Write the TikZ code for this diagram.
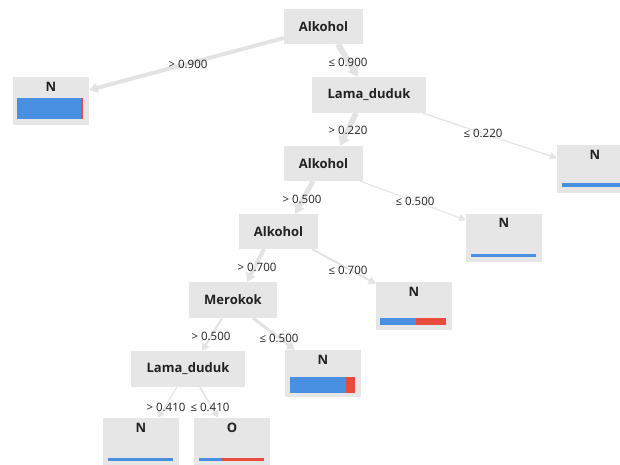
\documentclass[tikz,border=0pt]{standalone}
\usepackage{fontspec}
\setmainfont{Open Sans}
\usetikzlibrary{arrows.meta}
\definecolor{boxgray}{HTML}{E6E6E6}
\definecolor{edgegray}{HTML}{E3E3E3}
\definecolor{barblue}{HTML}{4A90E2}
\definecolor{barred}{HTML}{E74C3C}
\definecolor{txt}{HTML}{222222}
\begin{document}
\begin{tikzpicture}[x=1pt,y=-1pt,
 dec/.style={fill=boxgray, minimum width=79pt, minimum height=35pt, inner sep=0pt, text=txt, font=\bfseries\fontsize{13}{14}\selectfont},
 leaf/.style={fill=boxgray, minimum width=76pt, minimum height=48pt, inner sep=0pt},
 lbl/.style={text=txt, font=\fontsize{11.5}{12}\selectfont, inner sep=0pt},
 cls/.style={text=txt, font=\bfseries\fontsize{13}{14}\selectfont, inner sep=0pt},
 conn/.style={draw=edgegray, -{Triangle[length=6pt 0.6, width=6pt 1]}},
]
\useasboundingbox (0,0) rectangle (620,464);
\clip (0,0) rectangle (620,464);

% decision nodes
\node[dec] (root) at (323.5,26.5) {Alkohol};
\node[dec, minimum width=114pt, minimum height=36pt] (ld1) at (369,95) {Lama\_duduk};
\node[dec] (alk2) at (323.5,163.5) {Alkohol};
\node[dec] (alk3) at (278.5,231.5) {Alkohol};
\node[dec, minimum width=88pt, minimum height=36pt] (mer) at (233,300) {Merokok};
\node[dec, minimum width=114pt, minimum height=36pt] (ld2) at (188,369) {Lama\_duduk};

% leaves
\node[leaf] (n1) at (51,101) {};
\node[leaf] (n2) at (595,169) {};
\node[leaf] (n3) at (504,238) {};
\node[leaf] (n4) at (414,306) {};
\node[leaf, minimum height=47pt] (n5) at (323,373.5) {};
\node[leaf] (n6) at (141,442) {};
\node[leaf] (n7) at (232,442) {};

\node[cls] (n1t) at ([yshift=-10pt]n1.north) {N};
\node[cls] (n2t) at ([yshift=-10pt]n2.north) {N};
\node[cls] (n3t) at ([yshift=-9pt]n3.north) {N};
\node[cls] (n4t) at ([yshift=-10pt]n4.north) {N};
\node[cls] (n5t) at ([yshift=-10pt]n5.north) {N};
\node[cls] (n6t) at ([yshift=-10pt]n6.north) {N};
\node[cls] (n7t) at ([yshift=-10pt]n7.north) {O};

% bars
\fill[barblue] ([xshift=4pt,yshift=6pt]n1.south west) rectangle ([xshift=68pt,yshift=27pt]n1.south west);
\fill[barred] ([xshift=68pt,yshift=6pt]n1.south west) rectangle ([xshift=70pt,yshift=27pt]n1.south west);
\fill[barblue] ([xshift=5pt,yshift=6pt]n2.south west) rectangle ([xshift=70pt,yshift=10pt]n2.south west);
\fill[barblue] ([xshift=5pt,yshift=5pt]n3.south west) rectangle ([xshift=70pt,yshift=8pt]n3.south west);
\fill[barblue] ([xshift=4pt,yshift=5pt]n4.south west) rectangle ([xshift=40pt,yshift=12pt]n4.south west);
\fill[barred] ([xshift=40pt,yshift=5pt]n4.south west) rectangle ([xshift=70pt,yshift=12pt]n4.south west);
\fill[barblue] ([xshift=5pt,yshift=4pt]n5.south west) rectangle ([xshift=61pt,yshift=20pt]n5.south west);
\fill[barred] ([xshift=61pt,yshift=4pt]n5.south west) rectangle ([xshift=70pt,yshift=20pt]n5.south west);
\fill[barblue] ([xshift=5pt,yshift=5pt]n6.south west) rectangle ([xshift=70pt,yshift=8pt]n6.south west);
\fill[barblue] ([xshift=5pt,yshift=5pt]n7.south west) rectangle ([xshift=27pt,yshift=8pt]n7.south west);
\fill[barred] ([xshift=27pt,yshift=5pt]n7.south west) rectangle ([xshift=70pt,yshift=8pt]n7.south west);

% connectors
\draw[conn, line width=4pt] ([yshift=-11.5pt]root.west) -- ([yshift=11pt]n1.east);
\draw[conn, line width=6pt] ([xshift=14.5pt]root.south) -- ([xshift=-11pt]ld1.north);
\draw[conn, line width=5.5pt] ([xshift=-13pt]ld1.south) -- ([xshift=16.5pt]alk2.north);
\draw[conn, line width=1.2pt] ([xshift=-3pt]ld1.south east) -- ([yshift=11pt]n2.west);
\draw[conn, line width=5pt] ([xshift=-10.5pt]alk2.south) -- ([xshift=16.5pt]alk3.north);
\draw[conn, line width=1pt] ([xshift=-3pt]alk2.south east) -- ([yshift=18pt]n3.west);
\draw[conn, line width=4pt] ([xshift=-14.5pt]alk3.south) -- ([xshift=14pt]mer.north);
\draw[conn, line width=2pt] ([xshift=-6pt]alk3.south east) -- ([yshift=-2pt]n4.north west);
\draw[conn, line width=2pt] ([xshift=-11pt]mer.south) -- ([xshift=14pt]ld2.north);
\draw[conn, line width=3pt] ([xshift=20pt]mer.south) -- ([xshift=10pt]n5.north west);
\draw[conn, line width=1pt] ([xshift=-11pt]ld2.south) -- ([xshift=17pt]n6.north);
\draw[conn, line width=1.5pt] ([xshift=12pt]ld2.south) -- ([xshift=-14pt]n7.north);

% labels
\node[lbl] (l1) at (188,64) {> 0.900};
\node[lbl] (l2) at (348,62) {≤ 0.900};
\node[lbl] (l3) at (348,130) {> 0.220};
\node[lbl] (l4) at (483,133) {≤ 0.220};
\node[lbl] (l5) at (302,199) {> 0.500};
\node[lbl] (l6) at (415,201) {≤ 0.500};
\node[lbl] (l7) at (257,267) {> 0.700};
\node[lbl] (l8) at (348,270) {≤ 0.700};
\node[lbl] (l9) at (211,336) {> 0.500};
\node[lbl] (l10) at (279,338) {≤ 0.500};
\node[lbl] (l11) at (166,407) {> 0.410};
\node[lbl] (l12) at (210,407) {≤ 0.410};
\end{tikzpicture}
\end{document}
